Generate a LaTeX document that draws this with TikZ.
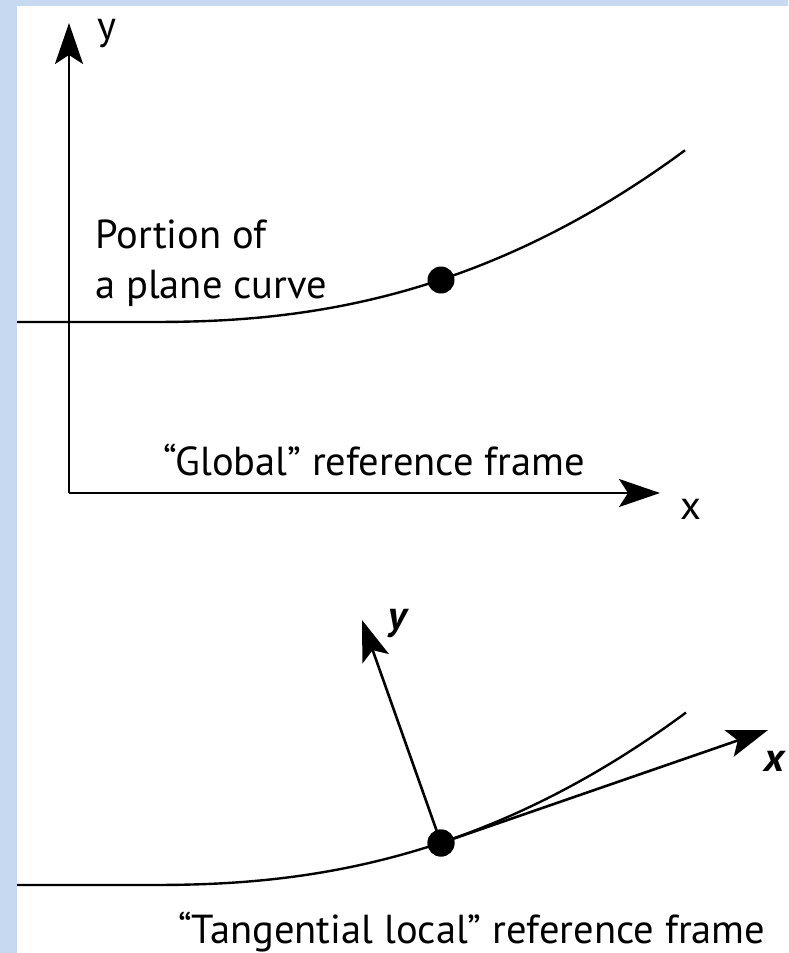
\documentclass[tikz,border=0pt]{standalone}
\usepackage{fontspec}
\setmainfont{PT Sans}
\usetikzlibrary{arrows.meta}
\definecolor{bord}{HTML}{C6D9F0}
\tikzset{
  axis/.style={line width=2.6pt, -{Stealth[length=41pt,width=28pt,inset=9pt]}},
  curve/.style={line width=2.4pt},
  pt/.style={circle, fill=black, inner sep=0pt, minimum size=27pt},
  lbl/.style={inner sep=0pt, font=\fontsize{40.5}{48}\selectfont},
  blbl/.style={inner sep=0pt, font=\fontsize{40.5}{48}\selectfont\bfseries\itshape},
}
\begin{document}
\begin{tikzpicture}[x=1pt,y=-1pt]
\useasboundingbox (0,0) rectangle (788,953);
\fill[bord] (0,0) rectangle (788,953);
\fill[white] (17,6) rectangle (788,953);
% global frame
\coordinate (O) at (69,493);
\coordinate (Yt) at (69,23);
\coordinate (Xt) at (660,493);
\draw[axis] (O) -- (Yt);
\draw[axis] (O) -- (Xt);
\node[lbl] (ylab) at (107,34) {y};
\node[lbl] (xlab) at (691,509) {x};
% top curve
\coordinate (c1s) at (17,322);
\draw[curve] (c1s) -- (150,322) -- plot[domain=150:685, samples=120] (\x, {322-42*pow((\x-150)/290,2.3)});
\node[pt] (d1) at (441,280) {};
\node[lbl, anchor=base west] (por1) at (95,248) {Portion of};
\node[lbl, anchor=base west] (por2) at (95,298) {a plane curve};
\node[lbl, anchor=base west] (glob) at (163,475) {“Global” reference frame};
% bottom curve
\coordinate (c2s) at (17,885);
\draw[curve] (c2s) -- (150,885) -- plot[domain=150:686, samples=120] (\x, {885-42*pow((\x-150)/290,2.3)});
\node[pt] (d2) at (441,843) {};
\coordinate (LXt) at (768,730);
\coordinate (LYt) at (362,620);
\draw[axis] (d2.center) -- (LXt);
\draw[axis] (d2.center) -- (LYt);
\node[pt] at (d2) {};
\node[blbl] (lylab) at (398,624) {y};
\node[blbl] (lxlab) at (775,761) {x};
\node[lbl, anchor=base west] (tang) at (178,943) {“Tangential local” reference frame};
\end{tikzpicture}
\end{document}
